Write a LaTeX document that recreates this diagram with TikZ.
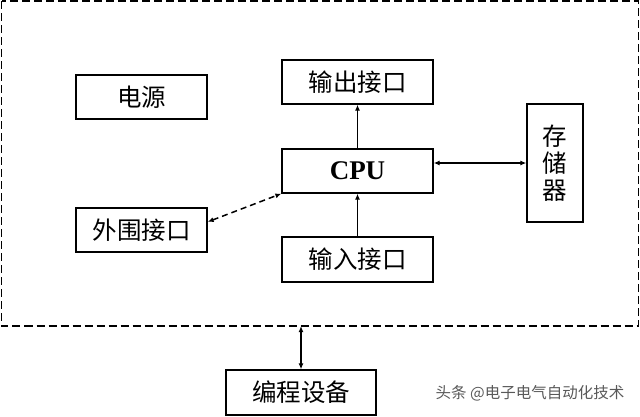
\documentclass[tikz,border=0pt]{standalone}
\usepackage{fontspec}
\setmainfont{Liberation Serif}
\newfontfamily\cjk{Noto Sans CJK SC}
\usepackage{tikz}
\usetikzlibrary{arrows.meta}
\tikzset{
    blockbox/.style={draw, line width=1.3pt, inner sep=0pt, minimum height=44pt, font=\cjk\fontsize{24.5}{27}\selectfont},
    busarrow/.style={{Latex[length=6pt,width=5pt]}-{Latex[length=6pt,width=5pt]}, line width=1.3pt},
    sigarrow/.style={-{Latex[length=6pt,width=5pt]}, line width=1.3pt}
}

\begin{document}
\begin{tikzpicture}[x=1pt,y=-1pt]
    \useasboundingbox (0,0) rectangle (640,416);
    \draw[line width=1.6pt, dash pattern=on 8pt off 4pt] (1.5,1) rectangle (638.5,326);

    \node[blockbox, minimum width=131pt] (power) at (141.5,97) {电源};
    \node[blockbox, minimum width=131pt] (peri) at (141.5,230) {外围接口};
    \node[blockbox, minimum width=151pt] (out) at (357.5,82) {输出接口};
    \node[blockbox, minimum width=151pt, font=\fontsize{27}{30}\selectfont\bfseries] (cpu) at (357.5,171) {CPU};
    \node[blockbox, minimum width=151pt, minimum height=45pt] (in) at (357.5,259.5) {输入接口};
    \node[blockbox, minimum width=56pt, minimum height=118pt, align=center] (mem) at (555,163) {存\\储\\器};
    \node[blockbox, minimum width=150pt, minimum height=45pt] (prog) at (301,392.5) {编程设备};
    \coordinate (bus) at (301,326);

    \node[font=\cjk\fontsize{15.5}{18}\selectfont, text=black!65] (mark) at (530,393) {头条 @电子电气自动化技术};

    \path [sigarrow](cpu) edge (out);
    \path [sigarrow](in) edge (cpu);
    \path [busarrow](cpu.east |- mem.west) edge (mem.west);
    \path [busarrow, line width=1.5pt, dash pattern=on 6pt off 4pt](peri.7) edge (cpu.south west);
    \path [busarrow](bus) edge (prog);
\end{tikzpicture}
\end{document}
